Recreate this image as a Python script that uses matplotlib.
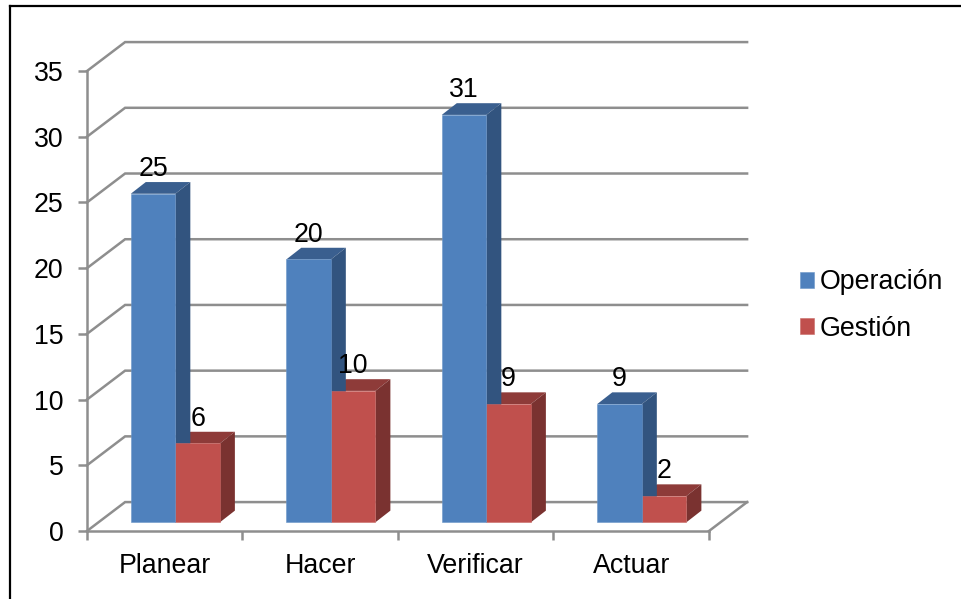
import matplotlib
matplotlib.use("Agg")
import matplotlib.pyplot as plt
from matplotlib.lines import Line2D
import numpy as np

categories = ["Planear", "Hacer", "Verificar", "Actuar"]
operacion = [25, 20, 31, 9]
gestion = [6, 10, 9, 2]
y_ticks = [0, 5, 10, 15, 20, 25, 30, 35]

plt.rcParams['font.family'] = ['Liberation Sans', 'DejaVu Sans']
FONT_SIZE = 19.3
GRID = '#8E8E8E'

# fake 3d offsets, all in data units
WALL_DX, WALL_DY = 0.245, 2.2
BAR_DX, BAR_DY = 0.0965, 0.89
FLOOR_Y = 0.66
BAR_W = 0.2865
BAR_SHIFT = 0.068


def draw_bars(ax, xs, values, front, top, side, edge, label):
    bars = ax.bar(xs, values, BAR_W, bottom=FLOOR_Y, align='edge', color=front,
                  edgecolor=edge, linewidth=0.4, label=label, zorder=3, clip_on=False)
    for x, v in zip(xs, values):
        y = FLOOR_Y + v
        ax.fill([x, x + BAR_W, x + BAR_W + BAR_DX, x + BAR_DX],
                [y, y, y + BAR_DY, y + BAR_DY], color=top, lw=0, zorder=2.9, clip_on=False)
        ax.fill([x + BAR_W, x + BAR_W + BAR_DX, x + BAR_W + BAR_DX, x + BAR_W],
                [FLOOR_Y, FLOOR_Y + BAR_DY, y + BAR_DY, y],
                color=side, lw=0, zorder=2.9, clip_on=False)
        ax.annotate(str(v), (x + BAR_W / 2, y), xytext=(0, 17.8), textcoords='offset points',
                    ha='center', va='center', fontsize=FONT_SIZE, color='black', zorder=5)
    return bars


fig = plt.figure(figsize=(9.61, 5.99), dpi=100)
ax = fig.add_axes([87 / 961, 68 / 599, 622 / 961, 460 / 599])
ax.set_xlim(0, 4)
ax.set_ylim(0, 35)

# back wall and floor lines
for v in y_ticks:
    ax.plot([0, WALL_DX, 4 + WALL_DX], [v, v + WALL_DY, v + WALL_DY],
            color=GRID, lw=1.8, zorder=1, clip_on=False, solid_joinstyle='miter')
ax.plot([4, 4 + WALL_DX], [0, WALL_DY], color=GRID, lw=1.8, zorder=1, clip_on=False)

x = np.arange(len(categories))
left = x + 0.5 + BAR_SHIFT - BAR_W
draw_bars(ax, left + BAR_W, gestion, '#C0504D', '#8E3B39', '#7A3230', '#C96A67', 'Gestión')
draw_bars(ax, left, operacion, '#4F81BD', '#3A5F8F', '#32547F', '#6C96C8', 'Operación')

ax.set_xticks(np.arange(5))
ax.set_xticklabels([])
ax.set_xticks(x + 0.5, categories, minor=True)
ax.tick_params(axis='x', which='major', length=6.5, width=1.8, color=GRID)
ax.tick_params(axis='x', which='minor', length=0, pad=15.5, labelsize=FONT_SIZE)
ax.set_yticks(y_ticks)
ax.tick_params(axis='y', length=6.5, width=1.8, color=GRID, pad=10.5, labelsize=FONT_SIZE)

for name in ['top', 'right']:
    ax.spines[name].set_visible(False)
for name in ['left', 'bottom']:
    ax.spines[name].set_color(GRID)
    ax.spines[name].set_linewidth(1.8)

handles, labels = ax.get_legend_handles_labels()
ax.legend(handles[::-1], labels[::-1], loc='center left', bbox_to_anchor=(800 / 961, 293.5 / 599),
          bbox_transform=fig.transFigure, frameon=False, fontsize=FONT_SIZE, handlelength=0.52,
          handleheight=0.52, handletextpad=0.22, labelspacing=0.75, borderpad=0, borderaxespad=0)

# frame around the chart, left and top only
fig.add_artist(Line2D([9.5 / 961, 9.5 / 961], [0, 593.5 / 599], color='black', lw=1.6))
fig.add_artist(Line2D([9.5 / 961, 1], [593.5 / 599, 593.5 / 599], color='black', lw=1.6))

fig.savefig('out.png', dpi=100)
